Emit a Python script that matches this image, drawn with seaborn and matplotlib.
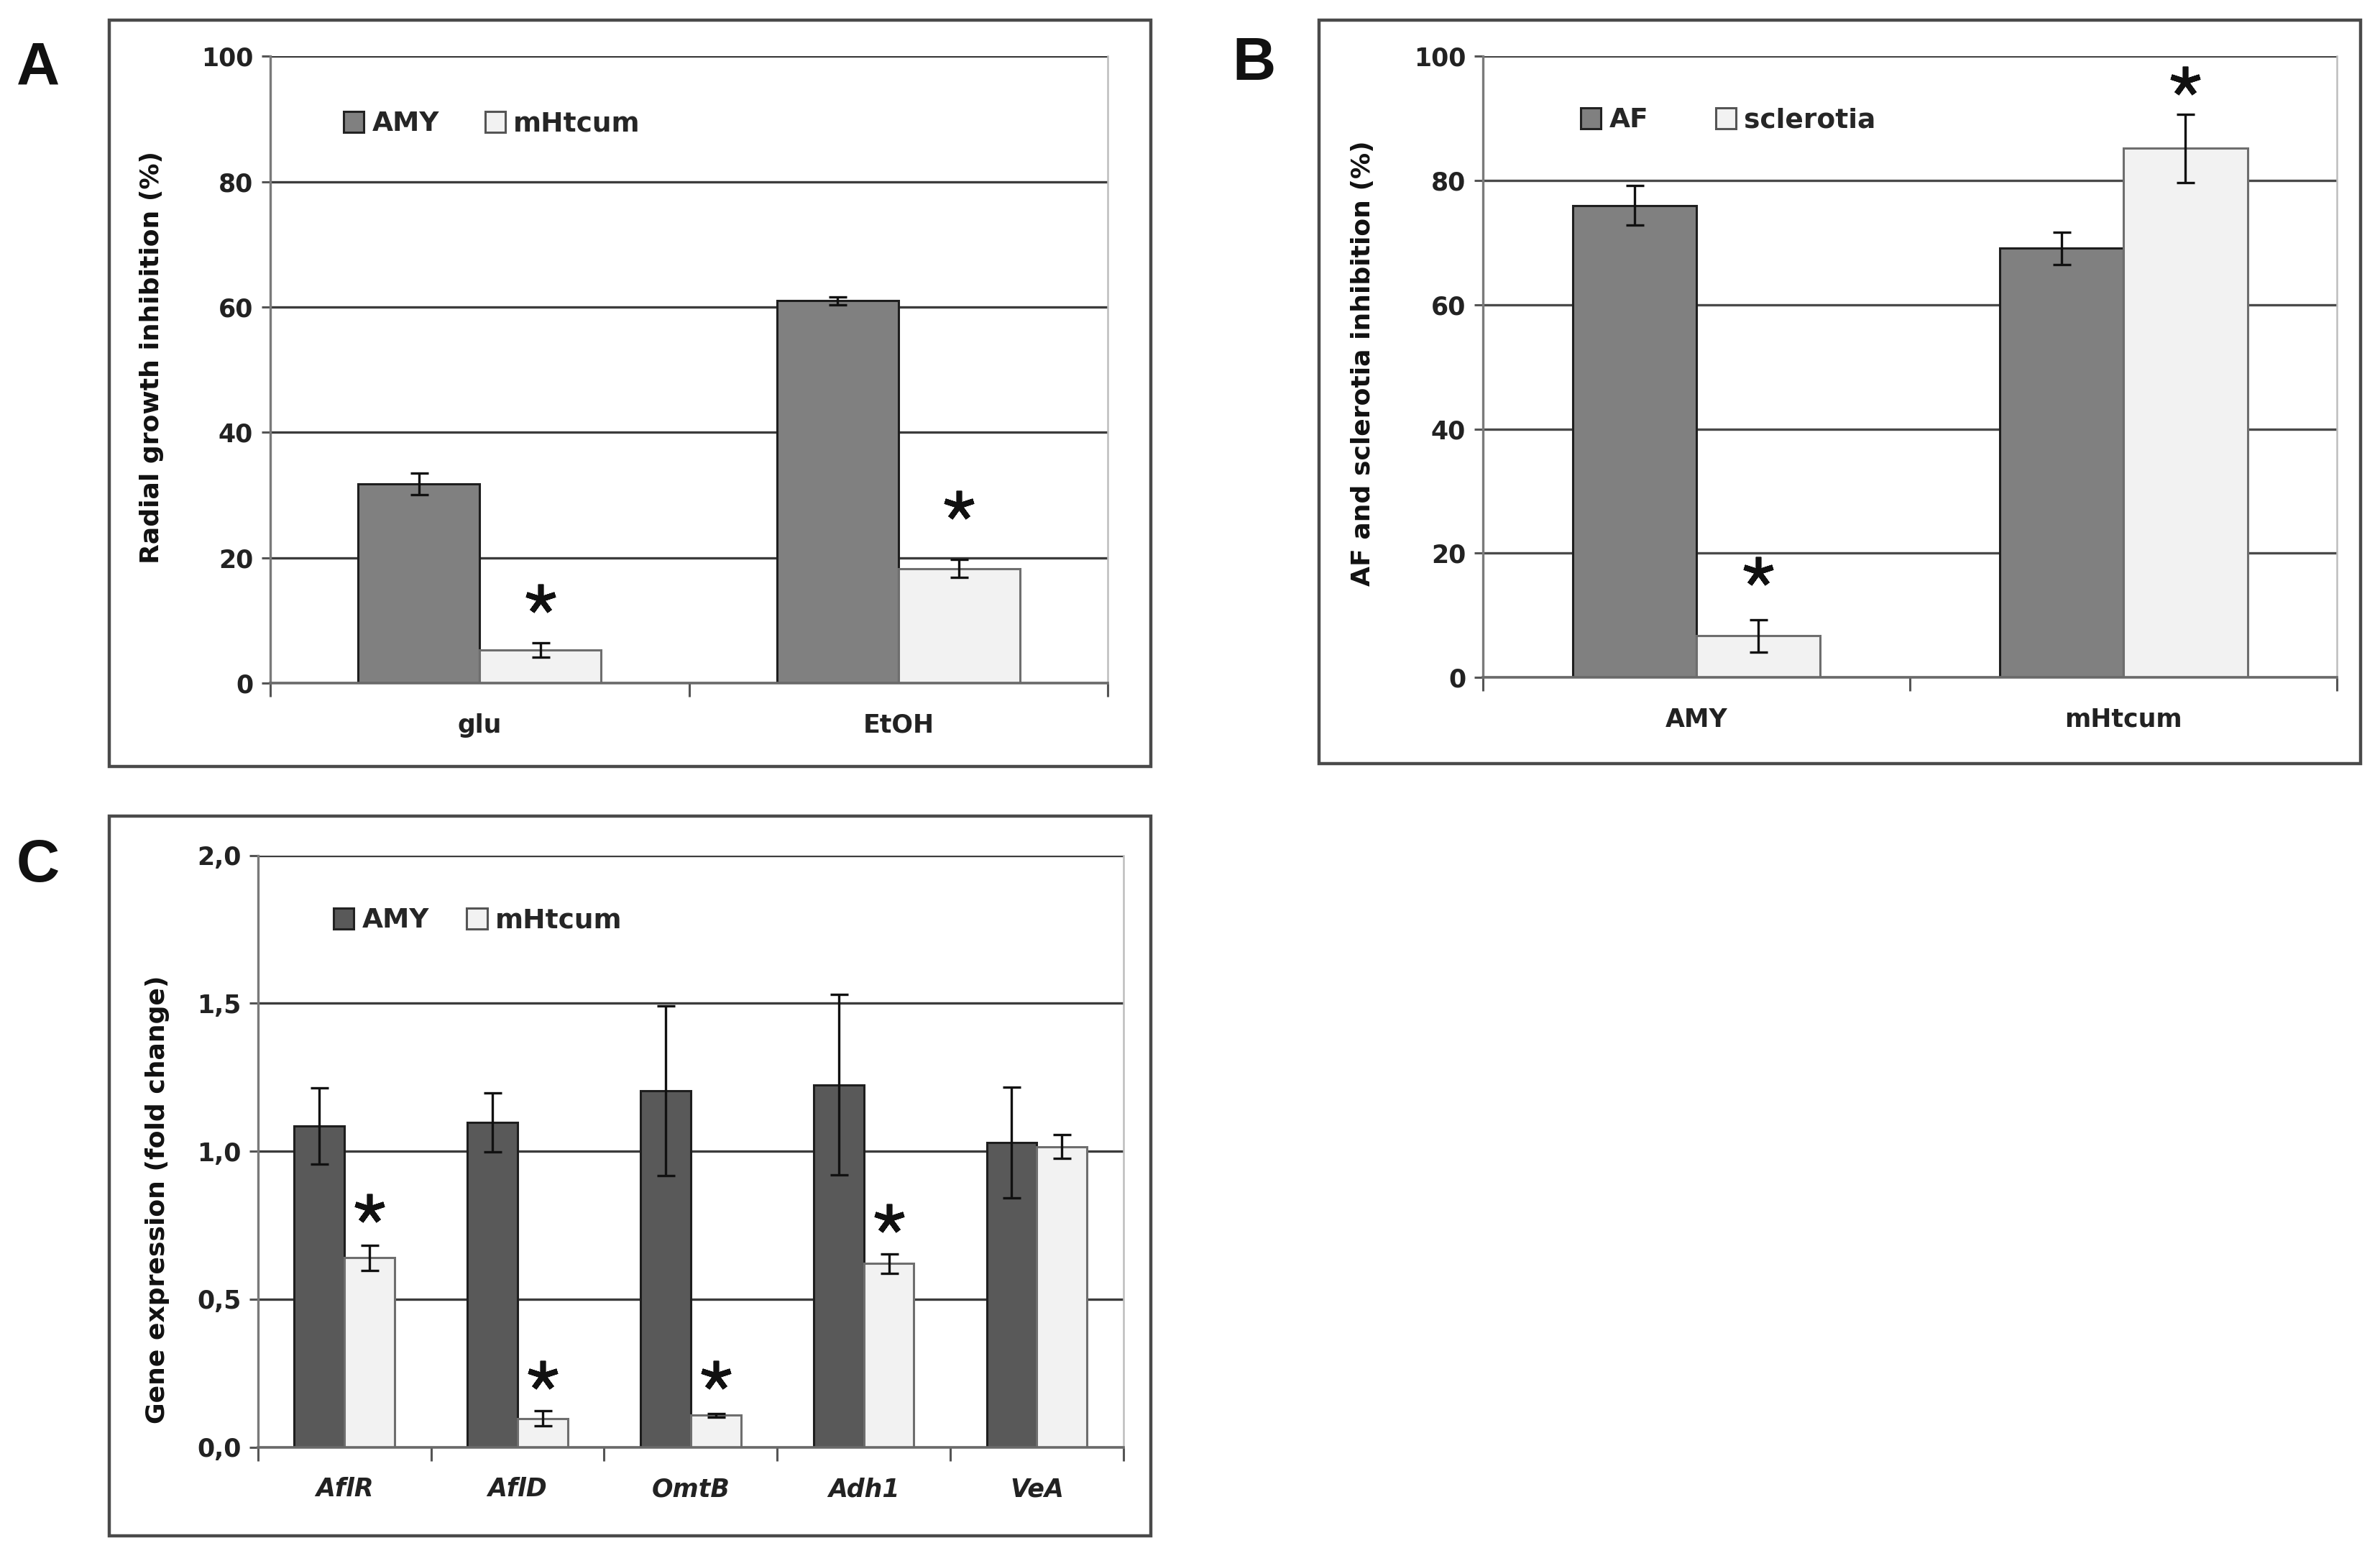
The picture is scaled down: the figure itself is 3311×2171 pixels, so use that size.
import numpy as np
import pandas as pd
import seaborn as sns
import matplotlib.pyplot as plt
from matplotlib.patches import Rectangle, Patch

sns.set_theme(style="white")
plt.rcParams['font.family'] = ['DejaVu Sans']

# ---------------- data ----------------
a_categories = ["glu", "EtOH"]
a_series = ["AMY", "mHtcum"]
a_amy = [31.8, 61.0]
a_amy_err = [1.7, 0.6]
a_mht = [5.3, 18.3]
a_mht_err = [1.2, 1.4]
a_stars = [13.5, 28.4]
a_yticks = [0, 20, 40, 60, 80, 100]

b_categories = ["AMY", "mHtcum"]
b_series = ["AF", "sclerotia"]
b_af = [76.0, 69.1]
b_af_err = [3.2, 2.6]
b_scl = [6.7, 85.2]
b_scl_err = [2.6, 5.5]
b_stars = [17.0, 96.0]
b_yticks = [0, 20, 40, 60, 80, 100]

c_categories = ["AflR", "AflD", "OmtB", "Adh1", "VeA"]
c_series = ["AMY", "mHtcum"]
c_amy = [1.085, 1.097, 1.205, 1.225, 1.030]
c_amy_err = [0.128, 0.100, 0.287, 0.305, 0.187]
c_mht = [0.640, 0.097, 0.108, 0.620, 1.015]
c_mht_err = [0.043, 0.025, 0.006, 0.032, 0.040]
c_stars = [0.806, 0.243, 0.243, 0.773, np.nan]
c_yticks = [0.0, 0.5, 1.0, 1.5, 2.0]
c_yticklabels = ["0,0", "0,5", "1,0", "1,5", "2,0"]

LIGHT = "#f2f2f2"


def make_panel(ax, cats, series, v1, e1, v2, e2, stars, yticks, ylim, dark,
               ylabel, italic=False, legend_anchor=(0.06, 0.96), colsp=2.0,
               grid_color="#3c3c3c", ylabel_pos=(-0.13, 0.5)):
    df = pd.DataFrame({
        "category": cats * 2,
        "series": [series[0]] * len(cats) + [series[1]] * len(cats),
        "value": list(v1) + list(v2),
    })
    for y in yticks:
        ax.axhline(y, color=grid_color, lw=2.4, zorder=0)
    sns.barplot(data=df, x="category", y="value", hue="series",
                palette=[dark, LIGHT], width=0.58, errorbar=None,
                order=cats, hue_order=series, legend=False, ax=ax,
                zorder=2)
    edgecols = ["#1e1e1e", "#6e6e6e"]
    errs = [e1, e2]
    vals = [v1, v2]
    bar_conts = list(ax.containers)
    for k, cont in enumerate(bar_conts):
        xs = []
        for p in cont.patches:
            p.set_edgecolor(edgecols[k])
            p.set_linewidth(2.2)
            xs.append(p.get_x() + p.get_width() / 2)
        ax.errorbar(xs, vals[k], yerr=errs[k], fmt="none", ecolor="#111111",
                    elinewidth=2.4, capsize=9, capthick=2.4, zorder=4)
        if k == 1:
            ax.plot(xs, stars, linestyle="none", marker=(5, 2, 0),
                    markersize=30, mew=5.5, color="#111111", zorder=5)
    ax.set_xlim(-0.5, len(cats) - 0.5)
    ax.set_ylim(*ylim)
    ax.set_yticks(yticks)
    ax.set_xlabel("")
    ax.set_ylabel(ylabel, fontsize=26, fontweight="bold", color="#111111")
    ax.yaxis.set_label_coords(*ylabel_pos)
    ax.set_xticks(range(len(cats)))
    ax.set_xticklabels(cats, fontsize=25, fontweight="bold",
                       style="italic" if italic else "normal",
                       color="#222222")
    ax.set_xticks(np.arange(-0.5, len(cats), 1.0), minor=True)
    ax.tick_params(axis="x", which="major", length=0, pad=30)
    ax.tick_params(axis="x", which="minor", length=14, width=2.2,
                   color="#555555", direction="out", bottom=True)
    ax.tick_params(axis="y", length=9, width=2.2, color="#555555",
                   direction="out", left=True, labelsize=25, pad=8,
                   labelcolor="#222222")
    for t in ax.get_yticklabels():
        t.set_fontweight("bold")
    ax.spines["top"].set_visible(False)
    ax.spines["left"].set_color("#7a7a7a")
    ax.spines["left"].set_linewidth(2.4)
    ax.spines["bottom"].set_color("#6a6a6a")
    ax.spines["bottom"].set_linewidth(2.6)
    ax.spines["right"].set_color("#bdbdbd")
    ax.spines["right"].set_linewidth(1.8)
    handles = [Patch(facecolor=dark, edgecolor="#222222", lw=2.2),
               Patch(facecolor=LIGHT, edgecolor="#555555", lw=2.2)]
    ax.legend(handles, series, loc="upper left", bbox_to_anchor=legend_anchor,
              ncol=2, frameon=False, handlelength=0.75,
              handleheight=0.8, handletextpad=0.3, columnspacing=colsp,
              borderaxespad=0, prop={"size": 27, "weight": "bold"})


fig = plt.figure(figsize=(33.11, 21.71), dpi=100)

# panel frames
for (x0, y0, x1, y1) in [(0.0459, 0.509, 0.4834, 0.987),
                         (0.5542, 0.511, 0.9917, 0.987),
                         (0.0459, 0.016, 0.4834, 0.477)]:
    fig.patches.append(Rectangle((x0, y0), x1 - x0, y1 - y0, fill=False,
                                 edgecolor="#4a4a4a", lw=3.2,
                                 transform=fig.transFigure, figure=fig))

axA = fig.add_axes([0.1135, 0.5623, 0.352, 0.4017])
make_panel(axA, a_categories, a_series, a_amy, a_amy_err, a_mht, a_mht_err,
           a_stars, a_yticks, (0, 100), "#808080",
           "Radial growth inhibition (%)", legend_anchor=(0.075, 0.93),
           colsp=1.7, ylabel_pos=(-0.127, 0.52))

axB = fig.add_axes([0.623, 0.566, 0.359, 0.398])
make_panel(axB, b_categories, b_series, b_af, b_af_err, b_scl, b_scl_err,
           b_stars, b_yticks, (0, 100), "#808080",
           "AF and sclerotia inhibition (%)", legend_anchor=(0.102, 0.935),
           colsp=2.5, grid_color="#4a4a4a", ylabel_pos=(-0.126, 0.506))

axC = fig.add_axes([0.1084, 0.073, 0.3636, 0.379])
make_panel(axC, c_categories, c_series, c_amy, c_amy_err, c_mht, c_mht_err,
           c_stars, c_yticks, (0, 2.0), "#595959",
           "Gene expression (fold change)", italic=True,
           legend_anchor=(0.075, 0.93), colsp=1.4, ylabel_pos=(-0.102, 0.418))
axC.set_yticklabels(c_yticklabels, fontweight="bold")

for lab, x, y in [("A", 0.016, 0.956), ("B", 0.527, 0.959), ("C", 0.016, 0.4455)]:
    fig.text(x, y, lab, fontsize=60, fontweight="bold", ha="center",
             va="center", family=["Liberation Sans", "DejaVu Sans"],
             color="#111111")

fig.savefig("out.png", dpi=100)
